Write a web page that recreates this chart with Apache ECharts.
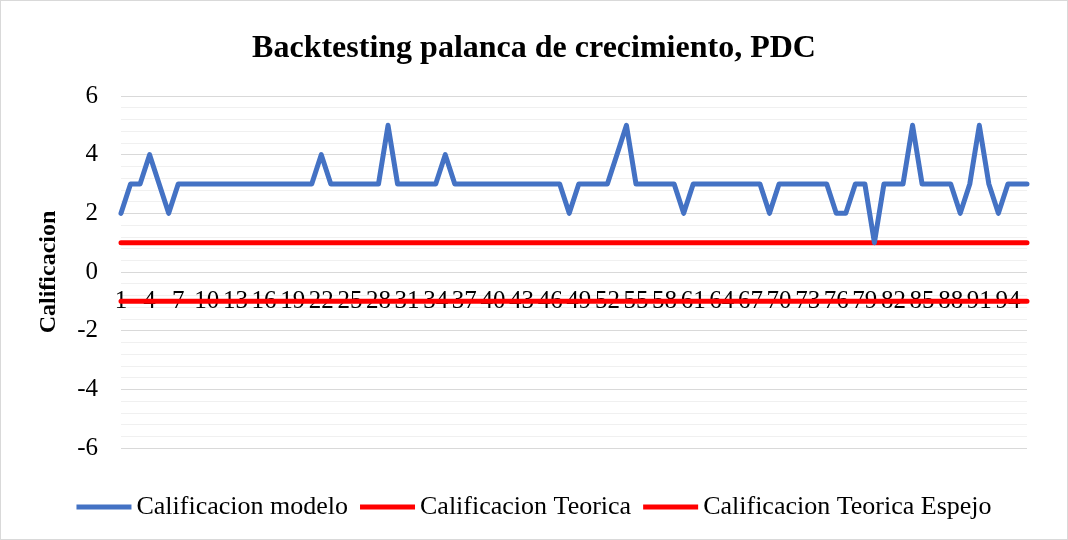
<!DOCTYPE html>
<html>
<head>
<meta charset="utf-8">
<script src="https://cdn.jsdelivr.net/npm/echarts@6/dist/echarts.min.js"></script>
<style>
  html, body { margin: 0; padding: 0; background: #fff; }
  #main { width: 1068px; height: 540px; box-sizing: border-box; border: 1px solid #d9d9d9; }
</style>
</head>
<body>
<div id="main"></div>
<script>
// datos
var puntos = [];
for (var i = 1; i <= 96; i++) puntos.push(String(i));

var modelo = [
  2, 3, 3, 4, 3, 2, 3, 3, 3, 3,
  3, 3, 3, 3, 3, 3, 3, 3, 3, 3,
  3, 4, 3, 3, 3, 3, 3, 3, 5, 3,
  3, 3, 3, 3, 4, 3, 3, 3, 3, 3,
  3, 3, 3, 3, 3, 3, 3, 2, 3, 3,
  3, 3, 4, 5, 3, 3, 3, 3, 3, 2,
  3, 3, 3, 3, 3, 3, 3, 3, 2, 3,
  3, 3, 3, 3, 3, 2, 2, 3, 3, 1,
  3, 3, 3, 5, 3, 3, 3, 3, 2, 3,
  5, 3, 2, 3, 3, 3
];
var teorica = puntos.map(function () { return 1; });
var espejo = puntos.map(function () { return -1; });

var fuente = 'Liberation Serif';
var myChart = echarts.init(document.getElementById('main'));
var option = {
  animation: false,
  title: {
    text: 'Backtesting palanca de crecimiento, PDC',
    left: 'center',
    top: 27,
    textStyle: { fontFamily: fuente, fontSize: 32, fontWeight: 'bold', color: '#000' }
  },
  legend: {
    top: 488,
    left: 'center',
    icon: 'rect',
    itemWidth: 55,
    itemHeight: 5,
    itemGap: 12,
    textStyle: { fontFamily: fuente, fontSize: 26, color: '#000' },
    data: ['Calificacion modelo', 'Calificacion Teorica', 'Calificacion Teorica Espejo']
  },
  grid: { left: 120, right: 40, top: 95, bottom: 91, containLabel: false },
  xAxis: {
    type: 'category',
    data: puntos,
    boundaryGap: false,
    offset: -178,
    axisLine: { show: false, onZero: false },
    axisTick: { show: false },
    axisLabel: { interval: 2, margin: 19, fontFamily: fuente, fontSize: 25, color: '#000' }
  },
  yAxis: {
    type: 'value',
    min: -6,
    max: 6,
    interval: 2,
    name: 'Calificacion',
    nameLocation: 'middle',
    nameGap: 60,
    nameRotate: 90,
    nameTextStyle: { fontFamily: fuente, fontSize: 24, fontWeight: 'bold', color: '#000' },
    axisLine: { show: false },
    axisTick: { show: false },
    axisLabel: { margin: 23, fontFamily: fuente, fontSize: 25, color: '#000' },
    splitLine: { lineStyle: { color: '#d9d9d9', width: 1 } },
    minorTick: { show: false, splitNumber: 5 },
    minorSplitLine: { show: true, lineStyle: { color: '#f0f0f0', width: 1 } }
  },
  series: [
    {
      name: 'Calificacion modelo',
      type: 'line',
      data: modelo,
      symbol: 'none',
      zlevel: 1,
      z: 6,
      lineStyle: { color: '#4472C4', width: 5, cap: 'round', join: 'round' },
      itemStyle: { color: '#4472C4' }
    },
    {
      name: 'Calificacion Teorica',
      type: 'line',
      data: teorica,
      symbol: 'none',
      zlevel: 1,
      lineStyle: { color: '#FF0000', width: 5, cap: 'round' },
      itemStyle: { color: '#FF0000' }
    },
    {
      name: 'Calificacion Teorica Espejo',
      type: 'line',
      data: espejo,
      symbol: 'none',
      zlevel: 1,
      lineStyle: { color: '#FF0000', width: 5, cap: 'round' },
      itemStyle: { color: '#FF0000' }
    }
  ]
};
myChart.setOption(option);
</script>
</body>
</html>
